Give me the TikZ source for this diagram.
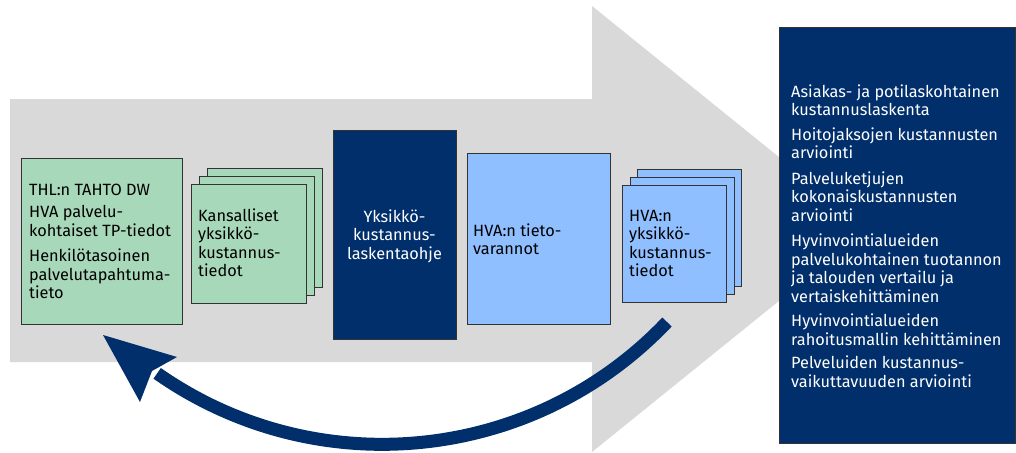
\documentclass[tikz,border=0pt]{standalone}
\usepackage{fontspec}
\setmainfont{Fira Sans}
\definecolor{bggray}{HTML}{D9D9D9}
\definecolor{boxgreen}{HTML}{A8D8BA}
\definecolor{boxblue}{HTML}{8FBFFF}
\definecolor{navy}{HTML}{002F6B}
\begin{document}
\begin{tikzpicture}[x=1pt,y=-1pt,
  box/.style={draw=black!80, line width=1pt, inner sep=0pt, outer sep=0pt, anchor=north west},
  txt/.style={font=\fontsize{16.3}{18.5}\selectfont, align=left, inner sep=0pt, anchor=base west},
  wtxt/.style={txt, text=white}]
\useasboundingbox (0,0) rectangle (1016,452);
% big gray arrow
\fill[bggray] (10,99) -- (592,99) -- (592,6) -- (868,229) -- (592,452) -- (592,362) -- (10,362) -- cycle;
% green source box
\node[box, fill=boxgreen, minimum width=161pt, minimum height=166pt] (thl) at (21,158) {};
\node[txt] (thlA) at (29,195) {THL:n TAHTO DW};
\node[txt] (thlB) at (29,236) {HVA palvelu-\\kohtaiset TP-tiedot};
\node[txt] (thlC) at (29,298.5) {Henkilötasoinen\\palvelutapahtuma-\\tieto};
% green stack
\node[box, fill=boxgreen, minimum width=115pt, minimum height=119pt] (ks3) at (207,168) {};
\node[box, fill=boxgreen, minimum width=115pt, minimum height=119pt] (ks2) at (199,176) {};
\node[box, fill=boxgreen, minimum width=115pt, minimum height=119pt] (ks1) at (191,184) {};
\node[txt] (kstxt) at (198,276.5) {Kansalliset\\yksikkö-\\kustannus-\\tiedot};
% navy instruction box
\node[box, fill=navy, minimum width=123pt, minimum height=209pt] (ohje) at (333,130) {};
\node[wtxt, align=center, anchor=base] (ohjetxt) at (394.5,259) {Yksikkö-\\kustannus-\\laskentaohje};
% blue data box
\node[box, fill=boxblue, minimum width=143pt, minimum height=171pt] (tieto) at (467,153) {};
\node[txt] (tietotxt) at (473,254.5) {HVA:n tieto-\\varannot};
% blue stack
\node[box, fill=boxblue, minimum width=104pt, minimum height=117pt] (hs3) at (637,169) {};
\node[box, fill=boxblue, minimum width=104pt, minimum height=117pt] (hs2) at (630,177) {};
\node[box, fill=boxblue, minimum width=104pt, minimum height=117pt] (hs1) at (622,185) {};
\node[txt] (hstxt) at (629,276.5) {HVA:n\\yksikkö-\\kustannus-\\tiedot};
% results box
\node[box, fill=navy, minimum width=236pt, minimum height=415pt] (res) at (779,28) {};
\node[wtxt] (r1) at (791,115.5) {Asiakas- ja potilaskohtainen\\kustannuslaskenta};
\node[wtxt] (r2) at (791,158.5) {Hoitojaksojen kustannusten\\arviointi};
\node[wtxt] (r3) at (791,221) {Palveluketjujen\\kokonaiskustannusten\\arviointi};
\node[wtxt] (r4) at (791,302) {Hyvinvointialueiden\\palvelukohtainen tuotannon\\ja talouden vertailu ja\\vertaiskehittäminen};
\node[wtxt] (r5) at (791,345) {Hyvinvointialueiden\\rahoitusmallin kehittäminen};
\node[wtxt] (r6) at (791,387) {Pelveluiden kustannus-\\vaikuttavuuden arviointi};
% feedback arrow
\coordinate (fbstart) at (667,322);
\coordinate (fbtip) at (103,335);
\draw[navy, line width=13pt] (fbstart) arc[start angle=43.5, end angle=125, radius=392.5] coordinate (fbend);
\fill[navy] (fbtip) -- (177,357) -- (152,371) -- (140,402) -- cycle;
\end{tikzpicture}
\end{document}
